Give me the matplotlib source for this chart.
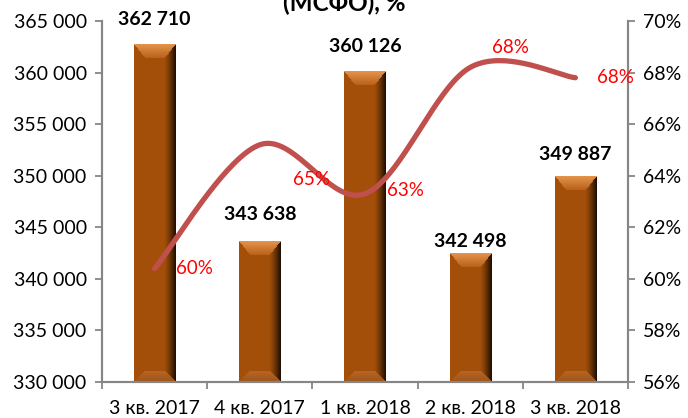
import numpy as np
import matplotlib
matplotlib.use("Agg")
import matplotlib.pyplot as plt
from matplotlib.ticker import FuncFormatter, MultipleLocator

plt.rcParams['font.family'] = ['Lato', 'DejaVu Sans']

categories = ["3 кв. 2017", "4 кв. 2017", "1 кв. 2018", "2 кв. 2018", "3 кв. 2018"]
bar_values = [362710, 343638, 360126, 342498, 349887]
bar_labels = ["362 710", "343 638", "360 126", "342 498", "349 887"]
share_values = [60.4, 65.2, 63.3, 68.2, 67.8]
share_labels = ["60%", "65%", "63%", "68%", "68%"]
title = "(МСФО), %"

# label offsets in points (dx, dy) relative to the mark
bar_label_offsets = [(0, 18), (0, 19), (0, 18), (0, 8), (0, 16)]
share_label_offsets = [(29, 0), (37, -25), (29, 2), (29, 14), (29, 0)]

fig = plt.figure(figsize=(6.88, 4.18), dpi=100)
ax = fig.add_axes([102/688, 36/418, 526/688, 361/418])
ax2 = ax.twinx()

x = np.arange(len(categories))
bw = 0.39
bars = ax.bar(x, bar_values, width=bw, color='#A5520B', zorder=2)
ax.set_ylim(330000, 365000)
ax.set_xlim(-0.5, len(categories) - 0.5)
ax.yaxis.set_major_locator(MultipleLocator(5000))
ax.yaxis.set_major_formatter(FuncFormatter(lambda v, p: f"{int(v):,}".replace(",", " ")))

# bevelled bar rendering
fig.canvas.draw()
def bevel_image(wpx, hpx, bt=14, bs=11):
    wpx = max(int(round(wpx)), 2); hpx = max(int(round(hpx)), 2)
    xx, yy = np.meshgrid(np.arange(wpx) + 0.5, np.arange(hpx) + 0.5)
    face = np.array([0.64, 0.31, 0.04])
    fx = xx / wpx
    shade = np.ones_like(fx)
    r = fx > 0.72
    shade = np.where(r, 1 - ((fx - 0.72) / 0.28) ** 1.3 * 0.85, shade)
    img = face * shade[..., None]
    dt = yy
    db = hpx - yy
    dl = xx
    dr = wpx - xx
    top = (dt < bt) & (dt * bs / bt <= np.minimum(dl, dr))
    bot = (db < bt * 0.8) & (db * bs / (bt * 0.8) <= np.minimum(dl, dr))
    g = (dt / bt)[..., None]
    topc = np.array([0.90, 0.58, 0.30]) * (1 - g) + np.array([0.72, 0.38, 0.10]) * g
    gb = (db / (bt * 0.8))[..., None]
    botc = np.array([0.62, 0.33, 0.10]) * (1 - gb) + np.array([0.72, 0.40, 0.14]) * gb
    img = np.where(top[..., None], topc, img)
    img = np.where(bot[..., None], botc, img)
    return np.clip(img, 0, 1)

for rect in bars:
    x0, y0 = rect.get_x(), rect.get_y()
    w, h = rect.get_width(), rect.get_height()
    p0 = ax.transData.transform((x0, 330000))
    p1 = ax.transData.transform((x0 + w, y0 + h))
    img = bevel_image(p1[0] - p0[0], p1[1] - p0[1])
    ax.imshow(img, extent=(x0, x0 + w, 330000, y0 + h), aspect='auto',
              interpolation='bilinear', zorder=3, origin='upper')
ax.set_xlim(-0.5, len(categories) - 0.5)
ax.set_ylim(330000, 365000)

for xi, v, lab, off in zip(x, bar_values, bar_labels, bar_label_offsets):
    ax.annotate(lab, (xi, v), xytext=off, textcoords='offset points',
                ha='center', va='center', fontsize=14, fontweight='bold', color='black', zorder=5)

# smoothed line (Bezier through the points, like Excel smoothing)
P = np.column_stack([x.astype(float), np.array(share_values)])
curve = []
n = len(P)
for i in range(n - 1):
    pm = P[i - 1] if i > 0 else P[i]
    pp = P[i + 2] if i + 2 < n else P[i + 1]
    c1 = P[i] + (P[i + 1] - pm) / 6
    c2 = P[i + 1] - (pp - P[i]) / 6
    t = np.linspace(0, 1, 40)[:, None]
    seg = (1 - t) ** 3 * P[i] + 3 * (1 - t) ** 2 * t * c1 + 3 * (1 - t) * t ** 2 * c2 + t ** 3 * P[i + 1]
    curve.append(seg)
curve = np.vstack(curve)
ax2.plot(curve[:, 0], curve[:, 1], color='#C0504D', lw=3.8, solid_capstyle='round', zorder=4)
ax2.set_ylim(56, 70)
ax2.yaxis.set_major_locator(MultipleLocator(2))
ax2.yaxis.set_major_formatter(FuncFormatter(lambda v, p: f"{int(round(v))}%"))
for xi, v, lab, off in zip(x, share_values, share_labels, share_label_offsets):
    ax2.annotate(lab, (xi, v), xytext=off, textcoords='offset points',
                 ha='center', va='center', fontsize=13.5, color='#FF0000', zorder=6)

ax.set_xticks(x)
ax.set_xticklabels(categories)
ax.set_xticks(np.arange(-0.5, len(categories)), minor=True)
ax.tick_params(axis='x', which='major', length=0, pad=13, labelsize=14)
ax.tick_params(axis='x', which='minor', length=5, width=1.3, color='#868686')
ax.tick_params(axis='y', length=5, width=1.3, color='#868686', labelsize=14, pad=6)
ax2.tick_params(axis='y', length=5, width=1.3, color='#868686', labelsize=14, pad=6)

for a in (ax, ax2):
    a.spines['top'].set_visible(False)
    for s in ['left', 'right', 'bottom']:
        a.spines[s].set_color('#868686')
        a.spines[s].set_linewidth(1.5)
ax.set_zorder(1)
ax2.set_zorder(2)
ax2.patch.set_visible(False)

fig.text(0.5, 0.974, title, ha='center', va='baseline', fontsize=17.5, fontweight='bold')

fig.savefig("out.png", dpi=100)
